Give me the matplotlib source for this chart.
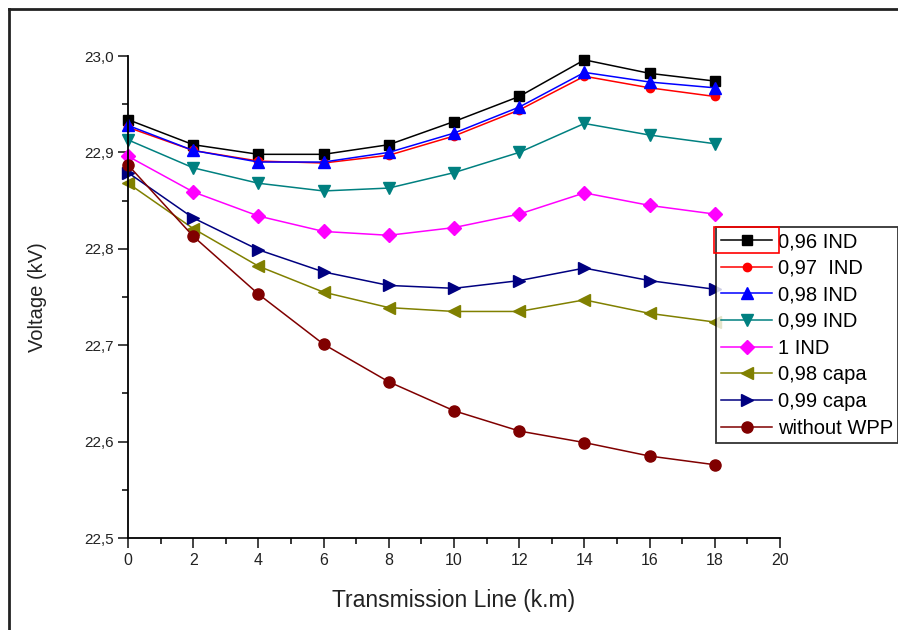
import matplotlib
matplotlib.use("Agg")
import matplotlib.pyplot as plt
from matplotlib.ticker import MultipleLocator, FuncFormatter
from matplotlib.lines import Line2D
from matplotlib.patches import Rectangle

# distance along the line (km)
km = [0, 2, 4, 6, 8, 10, 12, 14, 16, 18]

pf_096_ind = [22.934, 22.908, 22.898, 22.898, 22.908, 22.932, 22.958, 22.996, 22.982, 22.974]
pf_097_ind = [22.926, 22.902, 22.891, 22.889, 22.897, 22.917, 22.944, 22.979, 22.967, 22.958]
pf_098_ind = [22.928, 22.902, 22.890, 22.890, 22.900, 22.920, 22.947, 22.983, 22.973, 22.967]
pf_099_ind = [22.913, 22.884, 22.868, 22.860, 22.863, 22.879, 22.900, 22.930, 22.918, 22.909]
pf_1_ind = [22.896, 22.859, 22.834, 22.818, 22.814, 22.822, 22.836, 22.858, 22.845, 22.836]
pf_098_capa = [22.868, 22.821, 22.782, 22.755, 22.739, 22.735, 22.735, 22.747, 22.733, 22.724]
pf_099_capa = [22.879, 22.832, 22.799, 22.776, 22.762, 22.759, 22.767, 22.780, 22.767, 22.758]
no_wpp = [22.887, 22.813, 22.753, 22.701, 22.662, 22.632, 22.611, 22.599, 22.585, 22.576]

labels = ["0,96 IND", "0,97  IND", "0,98 IND", "0,99 IND", "1 IND",
          "0,98 capa", "0,99 capa", "without WPP"]

plt.rcParams['font.family'] = ['Liberation Sans', 'DejaVu Sans']

fig = plt.figure(figsize=(8.98, 6.30), dpi=100)
ax = fig.add_axes([128/898, 92/630, 652/898, 482/630])

series = [
    (pf_096_ind, "#000000", "s", 7.5),
    (pf_097_ind, "#ff0000", "o", 6),
    (pf_098_ind, "#0000ff", "^", 8.5),
    (pf_099_ind, "#008080", "v", 8.5),
    (pf_1_ind, "#ff00ff", "D", 7),
    (pf_098_capa, "#808000", "<", 8.5),
    (pf_099_capa, "#000080", ">", 8.5),
    (no_wpp, "#800000", "o", 8),
]
for (vals, col, mk, ms), lab in zip(series, labels):
    ax.plot(km, vals, color=col, marker=mk, markersize=ms, lw=1.1, label=lab,
            clip_on=False)

ax.set_xlim(0, 20)
ax.set_ylim(22.5, 23.0)
ax.xaxis.set_major_locator(MultipleLocator(2))
ax.xaxis.set_minor_locator(MultipleLocator(1))
ax.yaxis.set_major_locator(MultipleLocator(0.1))
ax.yaxis.set_minor_locator(MultipleLocator(0.05))
ax.yaxis.set_major_formatter(FuncFormatter(lambda v, p: f"{v:.1f}".replace('.', ',')))

for s in ['top', 'right']:
    ax.spines[s].set_visible(False)
for s in ['left', 'bottom']:
    ax.spines[s].set_linewidth(1.3)
ax.tick_params(which='major', direction='out', length=7, width=1.2, colors='#222222')
ax.tick_params(axis='x', labelsize=11.5)
ax.tick_params(axis='y', labelsize=11)
ax.tick_params(which='minor', direction='out', length=4, width=1.1)

ax.set_xlabel("Transmission Line (k.m)", fontsize=16.5, color='#222222')
ax.set_ylabel("Voltage (kV)", fontsize=14.5, color='#222222')
ax.xaxis.set_label_coords(0.5, -0.106)
ax.yaxis.set_label_coords(-0.124, 0.5)

leg = ax.legend(loc='upper left', bbox_to_anchor=(716/898, 1 - 227/630),
                bbox_transform=fig.transFigure, frameon=True, fancybox=False,
                fontsize=14.5, handlelength=2.54, handletextpad=0.3,
                labelspacing=0.38, borderpad=0.25, borderaxespad=0)
leg.get_frame().set_edgecolor('black')
leg.get_frame().set_linewidth(1.3)

# outer frame of the screenshot (top and left edges)
fig.add_artist(Line2D([9/898, 1], [1 - 8.5/630] * 2, transform=fig.transFigure,
                      color='#222222', lw=2))
fig.add_artist(Line2D([9/898] * 2, [0, 1 - 8.5/630], transform=fig.transFigure,
                      color='#222222', lw=2))

# red selection box around the first legend handle
fig.canvas.draw()
inv = fig.transFigure.inverted()
bb = leg.legend_handles[0].get_window_extent().transformed(inv)
fb = leg.get_frame().get_window_extent().transformed(inv)
fig.add_artist(Rectangle((bb.x0 - 2/898, fb.y1 - 26/630), bb.width + 4/898, 26/630,
                         transform=fig.transFigure, fill=False, edgecolor='red', lw=1.2))

fig.savefig("out.png", dpi=100)
